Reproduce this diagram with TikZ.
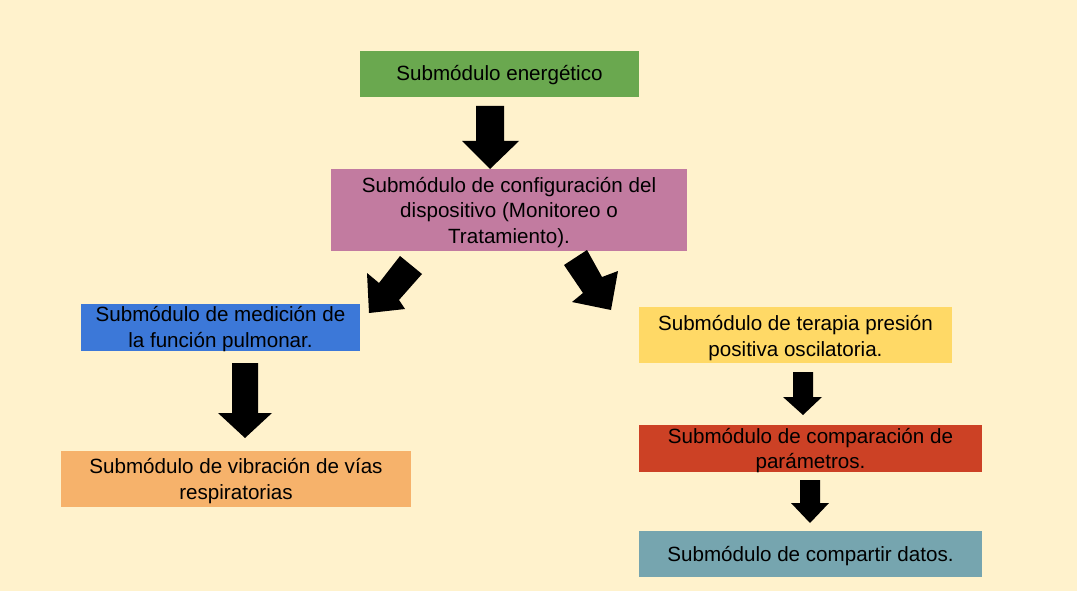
\documentclass[tikz,border=0pt]{standalone}
\usepackage{fontspec}
\setmainfont{Liberation Sans}
\definecolor{bg}{HTML}{FFF2CC}
\definecolor{cgreen}{HTML}{6AA84F}
\definecolor{cpink}{HTML}{C27BA0}
\definecolor{cblue}{HTML}{3C78D8}
\definecolor{corange}{HTML}{F6B26B}
\definecolor{cyellow}{HTML}{FFD966}
\definecolor{cred}{HTML}{CC4125}
\definecolor{cteal}{HTML}{76A5AF}
\tikzset{
  box/.style={rectangle, inner sep=0pt, align=center, text=black,
    font=\fontsize{20.6}{25.5}\selectfont},
  blockarrow/.style={fill=black, draw=none}
}
\begin{document}
\begin{tikzpicture}[x=1pt,y=-1pt]
\useasboundingbox (0,0) rectangle (1077,591);
\fill[bg] (0,0) rectangle (1077,591);

% boxes: fill drawn with exact corners, text node at center
\fill[cgreen] (360,51) rectangle (639,97);
\node[box] (ener) at (499.5,75) {Submódulo energético};

\fill[cpink] (331,169) rectangle (687,251);
\node[box] (conf) at (509,212.5) {Submódulo de configuración del\\dispositivo (Monitoreo o\\Tratamiento).};

\fill[cblue] (81,304) rectangle (360,351);
\node[box] (medi) at (220.5,329) {Submódulo de medición de\\la función pulmonar.};

\fill[corange] (61,451) rectangle (411,507);
\node[box] (vibr) at (236,481) {Submódulo de vibración de vías\\respiratorias};

\fill[cyellow] (639,307) rectangle (952,363);
\node[box] (tera) at (795.5,338) {Submódulo de terapia presión\\positiva oscilatoria.};

\fill[cred] (639,425) rectangle (982,472);
\node[box] (comp) at (810.5,450.5) {Submódulo de comparación de\\parámetros.};

\fill[cteal] (639,531) rectangle (982,577);
\node[box] (datos) at (810.5,556) {Submódulo de compartir datos.};

% block arrows
\fill[blockarrow] (476,106) -- (504,106) -- (504,141) -- (519,141) -- (490,169) -- (462,141) -- (476,141) -- cycle;
\fill[blockarrow] (400,256) -- (422,274) -- (399,300) -- (405,309) -- (369,313) -- (367,273) -- (379,283) -- cycle;
\fill[blockarrow] (564,265) -- (587,250) -- (602,277) -- (618,271) -- (611,310) -- (572,302) -- (583,293) -- cycle;
\fill[blockarrow] (232,363) -- (258,363) -- (258,413) -- (272,413) -- (245,438) -- (218,413) -- (232,413) -- cycle;
\fill[blockarrow] (793,372) -- (813,372) -- (813,397) -- (822,397) -- (803,415) -- (783,397) -- (793,397) -- cycle;
\fill[blockarrow] (800,480) -- (820,480) -- (820,503) -- (829,503) -- (810,523) -- (791,503) -- (800,503) -- cycle;
\end{tikzpicture}
\end{document}
